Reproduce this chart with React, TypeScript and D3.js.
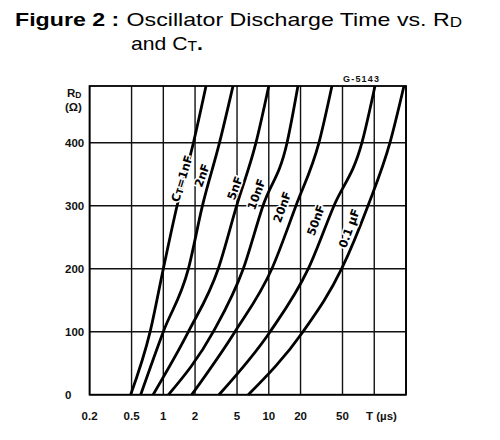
import * as d3 from "d3"

// discharge time T (µs) read at each RD level, one array per CT
const rdLevels = [0, 100, 200, 300, 400, 490]
const ct1nF = [0.49, 0.75, 1.0, 1.35, 1.93, 2.54]
const ct2nF = [0.61, 1.0, 1.73, 2.35, 3.41, 4.58]
const ct5nF = [0.8, 1.73, 3.32, 4.96, 7.56, 10.0]
const ct10nF = [1.12, 2.98, 5.73, 8.81, 14.9, 18.9]
const ct20nF = [1.86, 4.78, 10.7, 18.1, 29.9, 39.7]
const ct50nF = [3.37, 10.3, 23.7, 41.5, 76.4, 101.6]
const ct100nF = [6.39, 21.1, 49.1, 87.2, 140.9, 191.3]

const curves = [ct1nF, ct2nF, ct5nF, ct10nF, ct20nF, ct50nF, ct100nF]
const curveNames = ["CT=1nF", "2nF", "5nF", "10nF", "20nF", "50nF", "0.1 µF"]
// where each name sits (T, RD)
const labelT = [1.5, 2.33, 4.78, 7.65, 13.4, 28, 58]
const labelR = [343, 348, 328, 318, 298, 277, 264]

const tGrid = [0.2, 0.5, 1, 2, 5, 10, 20, 50, 100, 200]
const tLabels = ["0.2", "0.5", "1", "2", "5", "10", "20", "50"]
const rTicks = [0, 100, 200, 300, 400]

const W = 500
const H = 440

export default function App() {
    const x = d3.scaleLog().domain([0.2, 200]).range([89.6, 406])
    const y = d3.scaleLinear().domain([0, 490]).range([394.7, 86])

    const line = d3.line<[number, number]>()
        .x((d) => x(d[0]))
        .y((d) => y(d[1]))
        .curve(d3.curveMonotoneX)

    const tickFont = "'Liberation Sans', Arial, sans-serif"

    return (
        <svg width={W} height={H} style={{ position: "absolute", left: 0, top: 0, background: "#fff" }}>
            {/* title */}
            <text x={15} y={26} fontFamily={tickFont} fontSize={19} fill="#000"
                textLength={447} lengthAdjust="spacingAndGlyphs">
                <tspan fontWeight="bold">Figure 2 :</tspan>
                <tspan dx={6}>Oscillator Discharge Time vs. R</tspan>
                <tspan fontSize={14} dy={1}>D</tspan>
            </text>
            <text x={131} y={50} fontFamily={tickFont} fontSize={19} fill="#000"
                textLength={72} lengthAdjust="spacingAndGlyphs">
                <tspan>and C</tspan>
                <tspan fontSize={14} dy={1}>T</tspan>
                <tspan dy={-1} fontWeight="bold">.</tspan>
            </text>

            {/* grid */}
            <g stroke="#111" strokeWidth={1.4}>
                {tGrid.map((t) => (
                    <line key={"v" + t} x1={x(t)} x2={x(t)} y1={y(490)} y2={y(0)} />
                ))}
                {rTicks.map((r) => (
                    <line key={"h" + r} x1={x(0.2)} x2={x(200)} y1={y(r)} y2={y(r)} />
                ))}
            </g>
            <rect x={x(0.2)} y={y(490)} width={x(200) - x(0.2)} height={y(0) - y(490)}
                fill="none" stroke="#000" strokeWidth={1.8} />

            {/* curves */}
            <g fill="none" stroke="#000" strokeWidth={2.8}>
                {curves.map((c, i) => (
                    <path key={i} d={line(c.map((t, j) => [t, rdLevels[j]]) as [number, number][]) as string} />
                ))}
            </g>

            {/* curve names */}
            <g fontFamily="'DejaVu Sans', sans-serif" fontWeight="bold" fontSize={11.5} fill="#000"
                stroke="#fff" strokeWidth={3} style={{ paintOrder: "stroke" }} textAnchor="middle">
                {curveNames.map((n, i) => (
                    <text key={n} transform={`translate(${x(labelT[i])},${y(labelR[i])}) rotate(${i === 0 ? -73 : -70})`}
                        dy={4}>
                        {i === 0 ? (
                            <>
                                <tspan>C</tspan>
                                <tspan fontSize={9} dy={1}>T</tspan>
                                <tspan dy={-1}>=1nF</tspan>
                            </>
                        ) : n}
                    </text>
                ))}
            </g>

            {/* axis labels */}
            <g fontFamily={tickFont} fontWeight="bold" fontSize={11.5} fill="#111">
                {rTicks.map((r) => (
                    <text key={r} x={65} y={y(r) + 4}>{r}</text>
                ))}
                {tLabels.map((l, i) => (
                    <text key={l} x={x(tGrid[i])} y={420} textAnchor="middle">{l}</text>
                ))}
                <text x={366} y={420}>T (µs)</text>
                <text x={67} y={97}>R<tspan fontSize={8.5} dy={1}>D</tspan></text>
                <text x={65} y={111}>(Ω)</text>
            </g>
            <text x={343} y={82} fontFamily={tickFont} fontWeight="bold" fontSize={9} letterSpacing={1.2}
                fill="#111">G-5143</text>
        </svg>
    )
}
